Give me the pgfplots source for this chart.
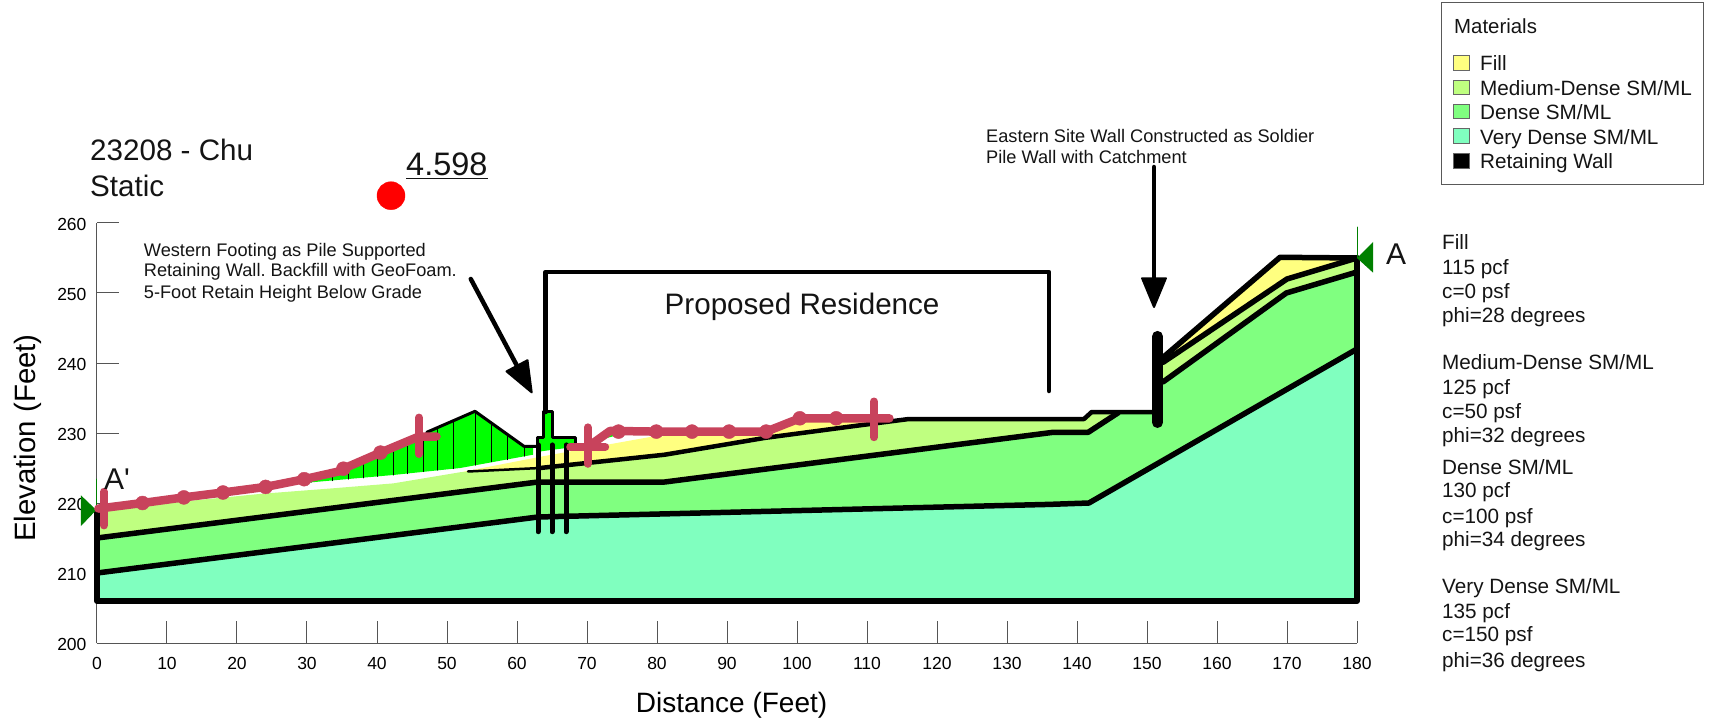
\documentclass[border=0pt]{standalone}
\usepackage{pgfplots}
\pgfplotsset{compat=1.18}
\usepackage{fontspec}
\setmainfont{Liberation Sans}
\definecolor{fillc}{HTML}{FFFF80}
\definecolor{medc}{HTML}{BFFF80}
\definecolor{denc}{HTML}{80FF80}
\definecolor{vdc}{HTML}{80FFBF}
\definecolor{slip}{HTML}{C8435C}
\definecolor{axc}{HTML}{555555}
\definecolor{endc}{HTML}{008000}
% text placed by page position in pixels, x from left, y from top (baseline)
\newcommand{\lbl}[4]{\node[anchor=base west,inner sep=0pt,text=black!92] at ({#1-97},{643-#2}) {\fontsize{#3}{#3}\selectfont\frenchspacing #4};}
\newcommand{\swatch}[3]{\draw[black!60,line width=0.8pt,fill=#3] ({1453-97},{643-#1}) rectangle ({1469-97},{643-#2});}
\begin{document}
\begin{tikzpicture}[x=1pt,y=1pt]
\path[use as bounding box] (-97,-83) rectangle (1614,643);
\begin{axis}[
  at={(0,0)}, anchor=south west,
  scale only axis, width=1260pt, height=420pt,
  xmin=0, xmax=180, ymin=200, ymax=260,
  axis x line=bottom, axis y line=left,
  axis line style={-,axc,line width=1pt},
  xtick={0,10,...,180}, ytick={200,210,...,260},
  tick align=inside, major tick length=22pt,
  tick style={axc,line width=1pt},
  clip=false,
  /pgf/number format/assume math mode=true,
  tick label style={font=\fontsize{17.5}{17.5}\selectfont},
  xticklabel style={yshift=-11pt},
  yticklabel style={xshift=-7pt,yshift=-1.5pt},
  xlabel={Distance (Feet)},
  ylabel={Elevation (Feet)},
  xlabel style={at={(axis description cs:0.5036,0)},anchor=base,yshift=-69pt,font=\fontsize{28}{28}\selectfont},
  ylabel style={at={(axis description cs:0,0.488)},anchor=base,yshift=61pt,font=\fontsize{29.4}{29.4}\selectfont},
  every axis plot/.append style={line join=round,line cap=round},
]
% material zones, upper ones first
\addplot[fill=fillc,draw=none] coordinates {(52,224.4) (63.3,226.6) (79.4,229.5) (95.6,229.9) (100.4,232) (116,232) (109,231.1) (95.4,229.3) (81.1,226.9) (63.3,225)} --cycle;
\addplot[fill=fillc,draw=none] coordinates {(153,241) (169,255) (180,255) (170,252)} --cycle;
\addplot[fill=medc,draw=none] coordinates {(0,206) (0,219) (23.3,221.3) (33.7,222.1) (42.3,222.8) (51.9,224.4) (63.3,225) (81.1,226.9) (95.4,229.3) (109,231.1) (116,232) (141,232) (142.1,233) (151.6,233) (151.6,240) (170,252) (180,255) (180,206)} --cycle;
\addplot[fill=denc,draw=none] coordinates {(0,206) (0,215) (63,223) (81.1,223) (136.6,230.1) (141.6,230.1) (145.9,232.9) (151.6,233) (152.3,237.3) (169.9,250) (180,253) (180,206)} --cycle;
\addplot[fill=vdc,draw=none] coordinates {(0,206) (0,210) (63,218) (136,219.8) (141.7,220) (180,242) (180,206)} --cycle;
% green fill of the graded mound and the footing
\addplot[fill=green,draw=none] coordinates {(30,222.9) (42.3,224) (51.9,225) (62.3,226.9) (62.3,228.1) (61,228.1) (54,233.1) (47.1,230.1) (40.5,227.2) (35.2,224.6) (30,223.4)} --cycle;
\addplot[fill=green,draw=none] coordinates {(62.9,227.3) (62.9,229.3) (63.8,229.3) (63.8,233.1) (65,233.1) (65,229.3) (68.3,229.3) (68.3,228) (65,227.6)} --cycle;
\addplot[fill=green,draw=none] coordinates {(71.8,229) (74,229.6) (73,229.9)} --cycle;
% hatch
\addplot[black,line width=1pt,unbounded coords=jump] coordinates {
 (30.7,223) (30.7,223.5) (30.7,nan)
 (33.7,223.2) (33.7,224.1) (33.7,nan)
 (35.9,223.4) (35.9,225) (35.9,nan)
 (38,223.6) (38,226) (38,nan)
 (40.1,223.8) (40.1,227) (40.1,nan)
 (42.3,224) (42.3,228) (42.3,nan)
 (44.4,224.2) (44.4,228.9) (44.4,nan)
 (46.6,224.5) (46.6,229.9) (46.6,nan)
 (48.7,224.7) (48.7,230.8) (48.7,nan)
 (50.9,224.9) (50.9,231.8) (50.9,nan)
 (54,225.4) (54,233.1) (54,nan)
 (56.4,225.9) (56.4,231.4) (56.4,nan)
 (58.7,226.2) (58.7,229.7) (58.7,nan)
 (61,226.7) (61,228.1)};
\addplot[black,line width=3pt] coordinates {(47.1,230.1) (54,233.1) (61,228.1) (62.9,228.1)};
% zone boundaries
\addplot[black,line width=6pt] coordinates {(0,219) (0,206) (180,206) (180,255)};
\addplot[black,line width=5.5pt] coordinates {(0,210) (63,218) (136,219.8) (141.7,220) (180,242)};
\addplot[black,line width=5.5pt] coordinates {(0,215) (63,223) (81.1,223) (136.6,230.1) (141.6,230.1) (145.9,232.9)};
\addplot[black,line width=5.5pt] coordinates {(152.3,237.3) (169.9,250) (180,253)};
\addplot[black,line width=2.5pt] coordinates {(53,224.5) (63.3,225)};
\addplot[black,line width=4.5pt] coordinates {(63.3,225) (81.1,226.9) (95.4,229.3) (109,231.1) (116,232) (141,232) (142.1,233) (151,233)};
\addplot[black,line width=5.5pt] coordinates {(152.3,240.1) (170,252) (180,255)};
\addplot[black,line width=5.5pt] coordinates {(152.3,240.8) (169,255.1) (180,255)};
% footing, stem and piles
\addplot[black,line width=3pt] coordinates {(62.9,228) (62.9,229.3) (63.8,229.3) (63.8,233.1) (65,233.1) (65,229.3) (68.3,229.3) (68.3,228.4)};
\addplot[black,line width=5pt] coordinates {(63,228.3) (63,215.9)};
\addplot[black,line width=5pt] coordinates {(65,228.3) (65,215.9)};
\addplot[black,line width=5pt] coordinates {(67,228.3) (67,215.9)};
% soldier pile wall
\addplot[black,line width=11pt] coordinates {(151.5,231.5) (151.5,243.8)};
% residence outline
\addplot[black,line width=4.5pt] coordinates {(64.1,233) (64.1,253) (136,253) (136,236)};
% arrows
\addplot[black,line width=4.5pt] coordinates {(53.4,252) (60,239.6)};
\addplot[black,fill=black,line width=2pt] coordinates {(62.1,235.8) (58.5,238.8) (61.5,240.4)} --cycle;
\addplot[black,line width=4.5pt] coordinates {(151,268) (151,252)};
\addplot[black,fill=black,line width=2pt] coordinates {(151,248) (149.3,252.1) (152.7,252.1)} --cycle;
% section end markers
\addplot[endc,line width=1pt] coordinates {(180,255) (180,259.4)};
\addplot[endc,line width=1pt] coordinates {(0,219) (0,223.4)};
\addplot[fill=endc,draw=none] coordinates {(180,255) (182.3,257.3) (182.3,252.9)} --cycle;
\addplot[fill=endc,draw=none] coordinates {(-0.1,219) (-2.3,221.1) (-2.3,216.7)} --cycle;
% section line with monuments
\addplot[slip,line width=8.5pt] coordinates {(0.2,219.2) (6.5,220) (12.4,220.8) (18,221.5) (24.1,222.3) (29.6,223.4) (34.5,224.5) (35.2,224.9) (40.5,227.2) (46,229.5) (48.5,229.5)};
\addplot[slip,only marks,mark=*,mark size=7pt,mark options={draw=slip,fill=slip}] coordinates {(6.5,220) (12.4,220.8) (18,221.5) (24.1,222.3) (29.6,223.4) (35.2,224.9) (40.5,227.2)};
\addplot[slip,line width=8pt] coordinates {(1,216.8) (1,221.6)};
\addplot[slip,line width=8pt] coordinates {(46,227) (46,232.2)};
\addplot[slip,line width=8pt] coordinates {(67.6,228) (72.6,228)};
\addplot[slip,line width=8pt] coordinates {(70.1,225.6) (70.1,230.8)};
\addplot[slip,line width=8.5pt] coordinates {(70.1,228) (73.3,230.3) (79.9,230.2) (85,230.2) (90.3,230.2) (95.6,230.2) (100.4,232.1) (105.6,232.1) (111,232.1) (113.2,232.1)};
\addplot[slip,only marks,mark=*,mark size=7pt,mark options={draw=slip,fill=slip}] coordinates {(74.5,230.2) (79.9,230.2) (85,230.2) (90.3,230.2) (95.6,230.2) (100.4,232.1) (105.6,232.1)};
\addplot[slip,line width=8pt] coordinates {(111,229.4) (111,234.5)};
% critical centre
\addplot[only marks,mark=*,mark size=14pt,mark options={draw=red,fill=red}] coordinates {(42,263.9)};
\end{axis}
% titles and notes
\lbl{90}{161}{29.6}{23208 - Chu}
\lbl{90}{196.3}{29.6}{Static}
\lbl{406}{176}{32.5}{\underline{4.598}}
\lbl{143.7}{256.5}{18.2}{Western Footing as Pile Supported}
\lbl{143.7}{277}{18.2}{Retaining Wall. Backfill with GeoFoam.}
\lbl{143.7}{298.5}{18.2}{5-Foot Retain Height Below Grade}
\lbl{986}{143}{18.2}{Eastern Site Wall Constructed as Soldier}
\lbl{986}{164}{18.2}{Pile Wall with Catchment}
\lbl{664.5}{315}{29.6}{Proposed Residence}
\lbl{104}{490}{30}{A\textquotesingle}
\lbl{1386}{265}{30}{A}
% material properties
\lbl{1442}{250}{20.7}{Fill}
\lbl{1442}{275}{20.7}{115 pcf}
\lbl{1442}{299}{20.7}{c=0 psf}
\lbl{1442}{323}{20.7}{phi=28 degrees}
\lbl{1442}{369.5}{20.7}{Medium-Dense SM/ML}
\lbl{1442}{394.5}{20.7}{125 pcf}
\lbl{1442}{418.5}{20.7}{c=50 psf}
\lbl{1442}{442.5}{20.7}{phi=32 degrees}
\lbl{1442}{474.5}{20.7}{Dense SM/ML}
\lbl{1442}{497.5}{20.7}{130 pcf}
\lbl{1442}{523}{20.7}{c=100 psf}
\lbl{1442}{547}{20.7}{phi=34 degrees}
\lbl{1442}{593.5}{20.7}{Very Dense SM/ML}
\lbl{1442}{618}{20.7}{135 pcf}
\lbl{1442}{641.5}{20.7}{c=150 psf}
\lbl{1442}{667}{20.7}{phi=36 degrees}
% legend box
\draw[black!65,line width=1pt] ({1441-97},{643-3}) rectangle ({1703-97},{643-185});
\lbl{1454}{33.5}{20.4}{Materials}
\swatch{55}{70}{fillc}
\swatch{80}{94}{medc}
\swatch{104}{118}{denc}
\swatch{128}{143}{vdc}
\swatch{153}{168}{black}
\lbl{1480}{70.7}{20.7}{Fill}
\lbl{1480}{96}{20.7}{Medium-Dense SM/ML}
\lbl{1480}{120}{20.7}{Dense SM/ML}
\lbl{1480}{144.3}{20.7}{Very Dense SM/ML}
\lbl{1480}{168.3}{20.7}{Retaining Wall}
\end{tikzpicture}
\end{document}
